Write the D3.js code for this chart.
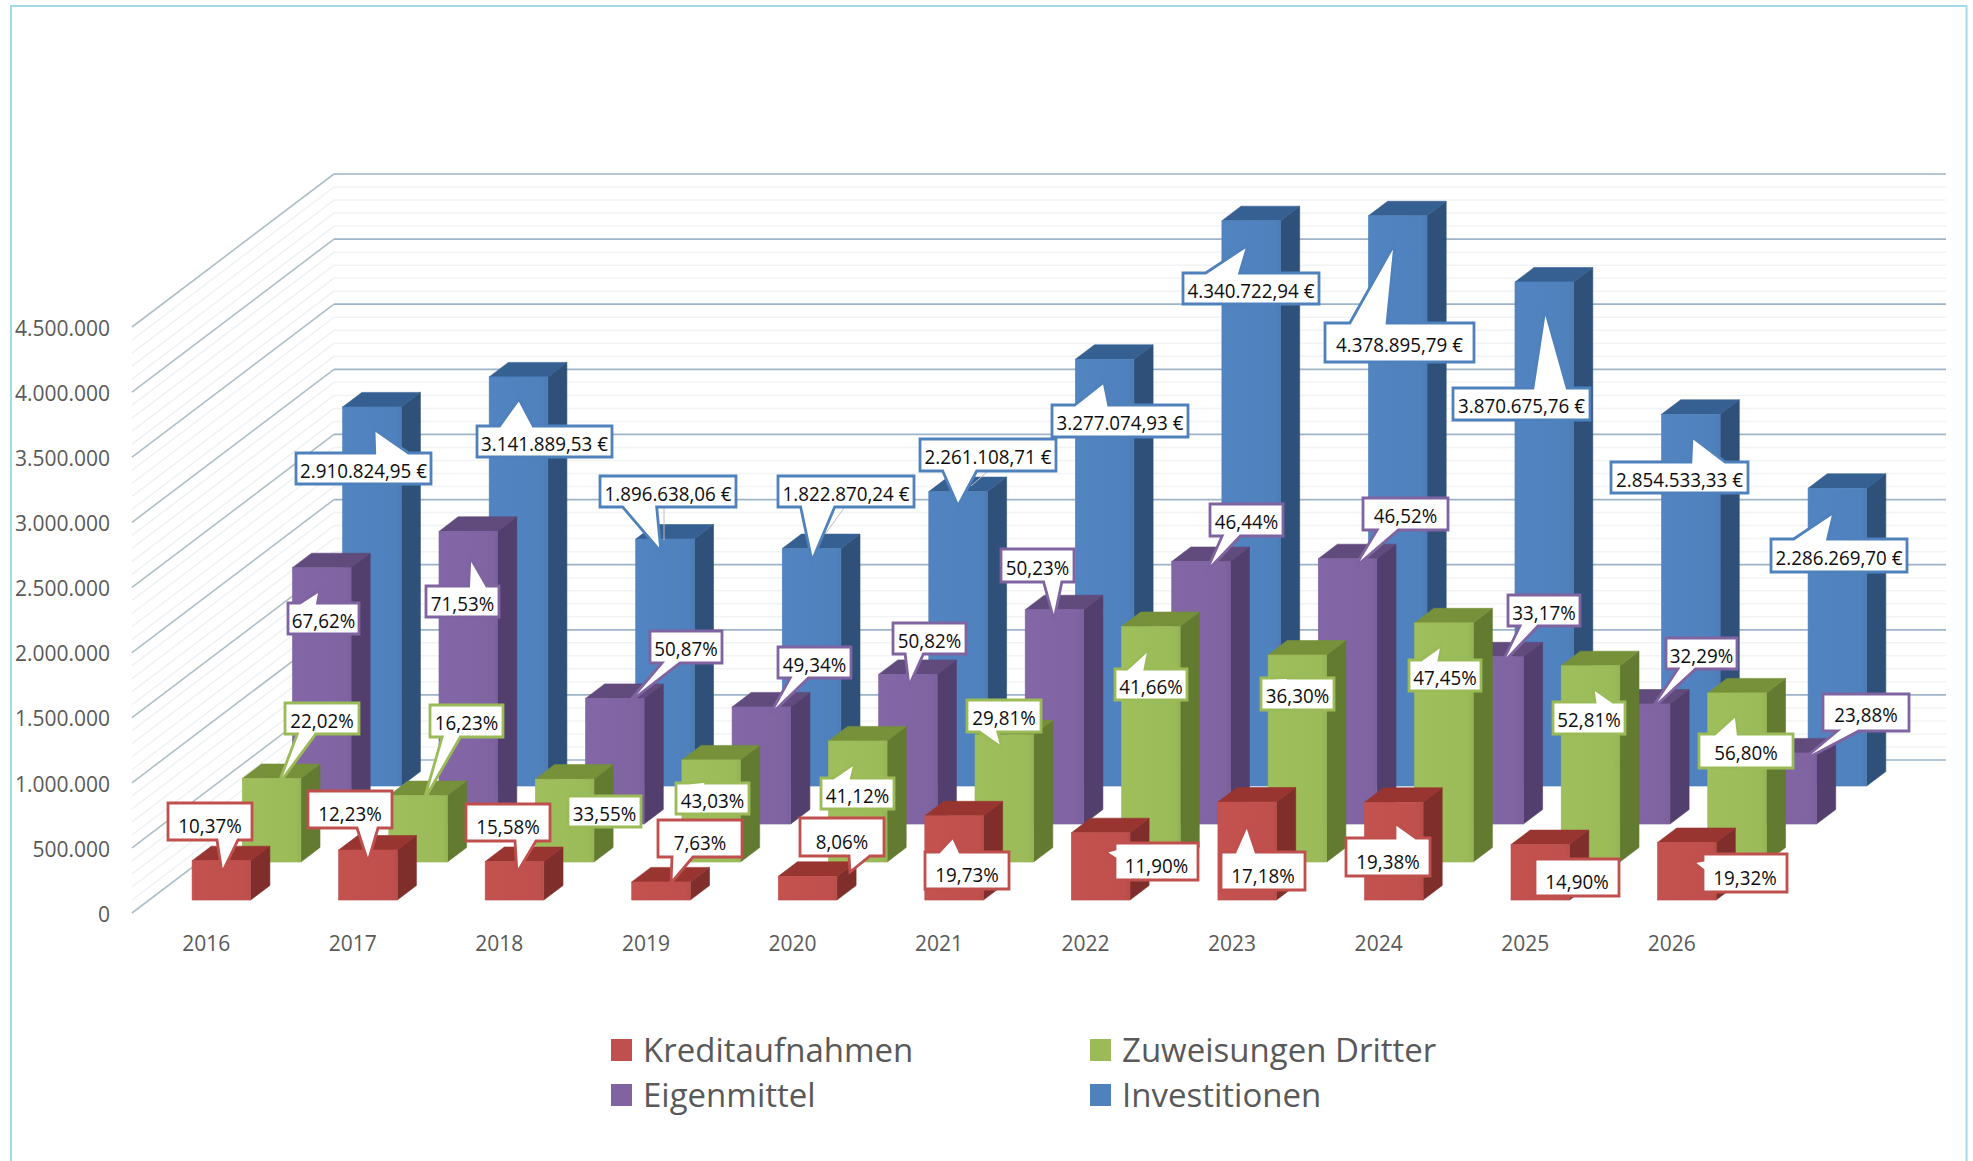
<!DOCTYPE html>
<html lang="de">
<head>
<meta charset="utf-8">
<title>Investitionen 2016–2026</title>
<script src="https://cdn.jsdelivr.net/npm/d3@7/dist/d3.min.js"></script>
<style>
html,body{margin:0;padding:0;background:#fff;overflow:hidden}
svg{display:block}
text{font-family:"Open Sans","Noto Sans",sans-serif}
</style>
</head>
<body>
<svg id="chart" width="1973" height="1161"></svg>
<script>
// ---------- data ----------
const years = ["2016","2017","2018","2019","2020","2021","2022","2023","2024","2025","2026"];
const seriesNames = ["Kreditaufnahmen","Zuweisungen Dritter","Eigenmittel","Investitionen"];
const kreditaufnahmen = [301853,384253,295496,139085,182245,646567,516546,752294,750137,425326,441707];
const zuweisungen = [640964,509929,636322,784381,929768,976896,1808345,1589539,1836636,1507479,1298601];
const eigenmittel = [1968300,2247394,964820,899404,1149096,1646075,2015832,2037062,1283903,921729,545961];
const investitionen = [2910825,3141890,1896638,1822870,2261109,3277075,4340723,4378896,3870676,2854533,2286270];
const kreditLabels = ["10,37%","12,23%","15,58%","7,63%","8,06%","19,73%","11,90%","17,18%","19,38%","14,90%","19,32%"];
const zuweisungLabels = ["22,02%","16,23%","33,55%","43,03%","41,12%","29,81%","41,66%","36,30%","47,45%","52,81%","56,80%"];
const eigenLabels = ["67,62%","71,53%","50,87%","49,34%","50,82%","50,23%","46,44%","46,52%","33,17%","32,29%","23,88%"];
const investLabels = ["2.910.824,95 €","3.141.889,53 €","1.896.638,06 €","1.822.870,24 €","2.261.108,71 €","3.277.074,93 €","4.340.722,94 €","4.378.895,79 €","3.870.675,76 €","2.854.533,33 €","2.286.269,70 €"];
const valueTicks = [0,500000,1000000,1500000,2000000,2500000,3000000,3500000,4000000,4500000];
const minorStep = 100000;

// ---------- hand-placed callouts: box x0,x1,y0,y1, wedge tip x,y (null = no wedge) ----------
const investCallouts = [
 [296,431,453,484,374,429],[477,612,426,457,519,399],[600,736,476,507,661,552],[778,914,476,507,812,561],
 [920,1056,439,471,958,506],[1052,1188,405,437,1104,382],[1183,1319,273,304,1248,245],[1325,1474,323,362,1395,243],
 [1453,1590,388,420,1545,309],[1611,1748,462,493,1692,437],[1771,1907,539,572,1834,512]];
const eigenCallouts = [
 [288,359,603,634,320,590],[426,499,586,617,470,557],[650,722,631,663,627,704],[778,851,647,678,769,716],
 [893,966,623,654,909,686],[1001,1074,549,582,1054,620],[1210,1283,504,536,1206,572],[1363,1448,498,530,1354,568],
 [1508,1580,595,626,1501,665],[1666,1737,638,669,1650,711],[1823,1909,694,731,1800,762]];
const zuweisungCallouts = [
 [285,359,703,734,278,785],[430,503,705,737,424,800],[568,641,796,827,null,null],[676,749,783,814,708,781],
 [821,894,778,809,855,763],[967,1041,700,732,1002,748],[1115,1187,669,700,1149,649],[1261,1334,678,710,1293,677],
 [1409,1481,660,691,1442,645],[1553,1625,702,734,1593,688],[1699,1793,734,768,1736,715]];
const kreditCallouts = [
 [168,252,803,840,222,873],[308,392,791,828,368,862],[466,550,804,841,517,873],[658,742,820,857,671,883],
 [800,884,818,856,850,872],[925,1009,852,889,953,837],[1115,1198,843,880,1105,852],[1221,1305,852,890,1247,825],
 [1346,1430,838,876,1395,823],[1535,1619,859,896,null,null],[1703,1787,854,892,1693,862]];
const leaderLines = [[664,508,664,540],[844,508,826,533],[987,472,971,486]];

// ---------- styles ----------
const palette = {
 "Kreditaufnahmen":    {front:"#c0504d", top:"#983531", side:"#7f2e2b", text:"#c0504d", shift:4.5},
 "Zuweisungen Dritter":{front:"#9bbb59", top:"#76913a", side:"#627b31", text:"#9bbb59", shift:2},
 "Eigenmittel":        {front:"#8064a2", top:"#614a7c", side:"#533f6d", text:"#8064a2", shift:2},
 "Investitionen":      {front:"#4f81bd", top:"#366092", side:"#2f5179", text:"#4f81bd", shift:2}
};
const seriesTable = [
 {name:"Investitionen",values:investitionen,labels:investLabels,callouts:investCallouts},
 {name:"Eigenmittel",values:eigenmittel,labels:eigenLabels,callouts:eigenCallouts},
 {name:"Zuweisungen Dritter",values:zuweisungen,labels:zuweisungLabels,callouts:zuweisungCallouts},
 {name:"Kreditaufnahmen",values:kreditaufnahmen,labels:kreditLabels,callouts:kreditCallouts}
];

// ---------- scales ----------
const svg = d3.select("#chart");
const floorLeft = 132, floorRight = 1744, floorY = 913, topY = 327;
const depthY = 153, depthRatio = 202/153;

const x = d3.scaleBand().domain(years).range([floorLeft-1,floorRight-1]).paddingInner(0.6).paddingOuter(0.3);
const y = d3.scaleLinear().domain([0,4500000]).range([floorY,topY]);
const depth = d3.scaleBand().domain(seriesNames).range([0,depthY]).paddingInner(0.618).paddingOuter(0.322).align(0.53);
const px = (sx,d) => sx + d*depthRatio;
const py = (v,d) => y(v) - d;
const pts = a => a.map(p=>p.map(n=>n.toFixed(1)).join(",")).join(" ");
const de = d3.formatLocale({decimal:",",thousands:".",grouping:[3],currency:["","€"]});
const fmt = de.format(",d");

// ---------- frame ----------
svg.append("rect").attr("x",11).attr("y",6).attr("width",1955.5).attr("height",1175)
  .attr("fill","none").attr("stroke","#a4d9e8").attr("stroke-width",2);

// ---------- walls ----------
const grid = svg.append("g");
const minorTicks = d3.range(0,4500001,minorStep).filter(v=>!valueTicks.includes(v));
grid.selectAll(".minorBack").data(minorTicks).join("line")
  .attr("x1",px(floorLeft,depthY)).attr("x2",px(floorRight,depthY))
  .attr("y1",v=>py(v,depthY)).attr("y2",v=>py(v,depthY))
  .attr("stroke","#f1f3f5").attr("stroke-width",1.5);
grid.selectAll(".minorSide").data(minorTicks).join("line")
  .attr("x1",px(floorLeft,0)).attr("x2",px(floorLeft,depthY))
  .attr("y1",v=>py(v,0)).attr("y2",v=>py(v,depthY))
  .attr("stroke","#eff2f4").attr("stroke-width",1.5);
grid.selectAll(".majorBack").data(valueTicks).join("line")
  .attr("x1",px(floorLeft,depthY)).attr("x2",px(floorRight,depthY))
  .attr("y1",v=>py(v,depthY)).attr("y2",v=>py(v,depthY))
  .attr("stroke","#9db4c9").attr("stroke-width",1.7);
grid.selectAll(".majorSide").data(valueTicks).join("line")
  .attr("x1",px(floorLeft,0)).attr("x2",px(floorLeft,depthY))
  .attr("y1",v=>py(v,0)).attr("y2",v=>py(v,depthY))
  .attr("stroke","#aebfc6").attr("stroke-width",1.6);

// ---------- axes ----------
const yAxis = d3.axisLeft(y).tickValues(valueTicks).tickFormat(fmt).tickSize(0).tickPadding(0);
const yG = svg.append("g").attr("transform","translate(110,1.5)").call(yAxis);
yG.select(".domain").remove();
yG.selectAll("text").attr("fill","#595959").style("font-size","21px").style("font-family",'"Open Sans"');

const xAxis = d3.axisBottom(x).tickSize(0).tickPadding(0);
const xG = svg.append("g").attr("transform","translate(2,936.5)").call(xAxis);
xG.select(".domain").remove();
xG.selectAll("text").attr("fill","#595959").style("font-size","21px").style("font-family",'"Open Sans"');

// ---------- bars (back row first) ----------
const defs = svg.append("defs");
seriesTable.forEach((s,i)=>{
  const c = palette[s.name];
  const g = defs.append("linearGradient").attr("id","f"+i);
  g.append("stop").attr("offset","0").attr("stop-color",d3.color(c.front).brighter(0.06));
  g.append("stop").attr("offset","0.9").attr("stop-color",c.front);
  g.append("stop").attr("offset","1").attr("stop-color",d3.color(c.front).darker(0.12));
});
const barsRoot = svg.append("g");
seriesTable.forEach((s,i)=>{
  const c = palette[s.name];
  const d0 = depth(s.name), d1 = d0 + depth.bandwidth();
  const row = barsRoot.append("g").attr("class","series");
  const bars = row.selectAll("g").data(years.map((yr,k)=>({yr,v:s.values[k]}))).join("g");
  const xl = d=>x(d.yr), xr = d=>x(d.yr)+x.bandwidth();
  bars.append("polygon").attr("fill",c.side).attr("stroke",c.side).attr("stroke-width",0.6)
    .attr("points",d=>pts([[px(xr(d),d0),py(0,d0)],[px(xr(d),d1),py(0,d1)],[px(xr(d),d1),py(d.v,d1)],[px(xr(d),d0),py(d.v,d0)]]));
  bars.append("polygon").attr("fill",c.top).attr("stroke",c.top).attr("stroke-width",0.6)
    .attr("points",d=>pts([[px(xl(d),d0),py(d.v,d0)],[px(xr(d),d0),py(d.v,d0)],[px(xr(d),d1),py(d.v,d1)],[px(xl(d),d1),py(d.v,d1)]]));
  bars.append("rect").attr("fill",`url(#f${i})`).attr("stroke",c.front).attr("stroke-width",0.6)
    .attr("x",d=>px(xl(d),d0)).attr("width",x.bandwidth())
    .attr("y",d=>py(d.v,d0)).attr("height",d=>py(0,d0)-py(d.v,d0));
});

// ---------- callouts (Office wedgeRectCallout geometry) ----------
function calloutPath(x0,x1,y0,y1,tx,ty){
  const w=x1-x0,h=y1-y0,cx=(x0+x1)/2,cy=(y0+y1)/2;
  const P=[[x0,y0]];
  let edge=null;
  if(tx!==null){
    const inside = tx>=x0&&tx<=x1&&ty>=y0&&ty<=y1;
    if(!inside){
      const dx=tx-cx,dy=ty-cy,dq=dx*h/w;
      edge=Math.abs(dy)>Math.abs(dq)?(dy<0?"t":"b"):(dx<0?"l":"r");
    }
  }
  const ux=tx>=cx?[7/12,10/12]:[2/12,5/12], uy=ty>=cy?[7/12,10/12]:[2/12,5/12];
  if(edge==="t"){P.push([x0+w*ux[0],y0],[tx,ty],[x0+w*ux[1],y0]);}
  P.push([x1,y0]);
  if(edge==="r"){P.push([x1,y0+h*uy[0]],[tx,ty],[x1,y0+h*uy[1]]);}
  P.push([x1,y1]);
  if(edge==="b"){P.push([x0+w*ux[1],y1],[tx,ty],[x0+w*ux[0],y1]);}
  P.push([x0,y1]);
  if(edge==="l"){P.push([x0,y0+h*uy[1]],[tx,ty],[x0,y0+h*uy[0]]);}
  return "M"+P.map(p=>p.join(",")).join("L")+"Z";
}
svg.append("g").selectAll("line").data(leaderLines).join("line")
  .attr("x1",d=>d[0]).attr("y1",d=>d[1]).attr("x2",d=>d[2]).attr("y2",d=>d[3])
  .attr("stroke","#bfbfbf").attr("stroke-width",1);
const labelRoot = svg.append("g");
seriesTable.forEach(s=>{
  const c = palette[s.name];
  const g = labelRoot.append("g").selectAll("g").data(s.labels.map((t,k)=>({t,b:s.callouts[k]}))).join("g");
  g.append("path").attr("d",d=>calloutPath(...d.b)).attr("fill","#fff").attr("stroke",c.text).attr("stroke-width",2.8).attr("stroke-linejoin","miter");
  g.append("text").attr("x",d=>(d.b[0]+d.b[1])/2).attr("y",d=>(d.b[2]+d.b[3])/2+7.3+c.shift)
    .attr("text-anchor","middle").attr("fill","#0d0d0d").style("font-size","20.5px").text(d=>d.t)
    .each(function(){
      this.setAttribute("lengthAdjust","spacingAndGlyphs");
      this.setAttribute("textLength",(this.getComputedTextLength()*0.915).toFixed(1));
    });
});

// ---------- legend ----------
const legendOrder = [["Kreditaufnahmen",611,1039],["Zuweisungen Dritter",1090,1039],["Eigenmittel",611,1084],["Investitionen",1090,1084]];
const leg = svg.append("g").selectAll("g").data(legendOrder).join("g");
leg.append("rect").attr("x",d=>d[1]).attr("y",d=>d[2]).attr("width",21).attr("height",22).attr("fill",d=>palette[d[0]].front);
leg.append("text").attr("x",d=>d[1]+32).attr("y",d=>d[2]+23).attr("fill","#595959").style("font-size","33px").text(d=>d[0]);
</script>
</body>
</html>
